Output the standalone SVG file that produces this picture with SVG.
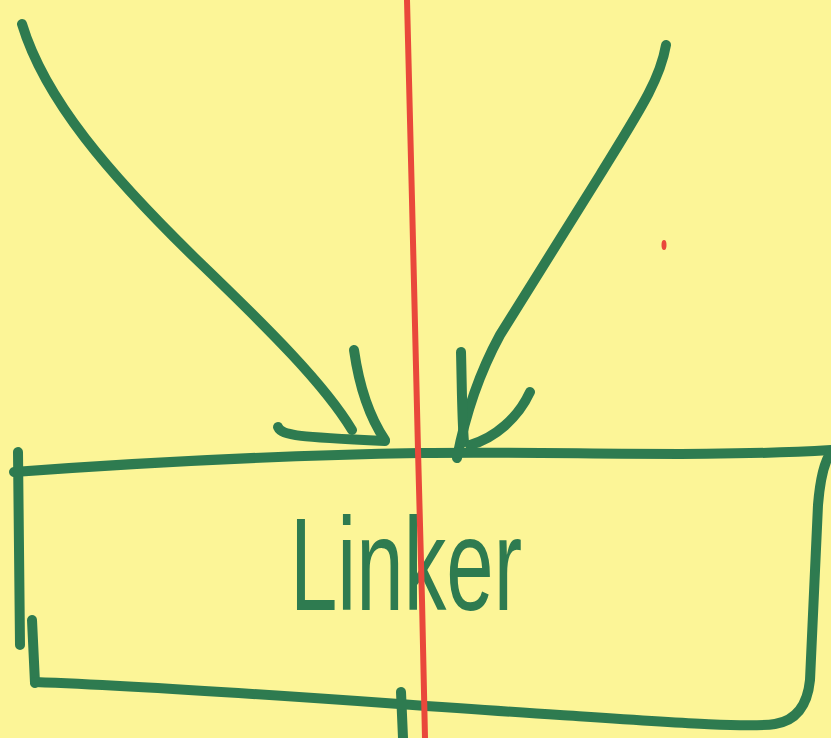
<svg xmlns="http://www.w3.org/2000/svg" width="831" height="738" viewBox="0 0 831 738">
<style>
.ink{fill:none;stroke:#2E7B50;stroke-width:10;stroke-linecap:round;stroke-linejoin:round}
.lbl{font-family:"Liberation Sans","DejaVu Sans",sans-serif;font-size:132px;fill:#2E7B50}
</style>
<rect x="0" y="0" width="831" height="738" fill="#FCF597"/>
<g id="connectors">
<path class="ink" d="M22,24 C45,100 110,175 195,258 C270,330 325,385 352,430"/>
<path class="ink" d="M278,427 C282,436 300,437 385,441"/>
<path class="ink" d="M354,350 C358,378 366,412 385,440"/>
<path class="ink" d="M666,45 C660,80 640,110 600,175 L500,335 Q470,390 457,458"/>
<path class="ink" d="M461,352 C462,390 462,420 464,442"/>
<path class="ink" d="M530,392 C518,418 495,438 470,445"/>
<path class="ink" d="M401,692 L403,738"/>
</g>
<g id="linker">
<path class="ink" d="M14,472 C150,462 300,455 420,453 C560,451 700,458 831,450"/>
<path class="ink" d="M18,452 L20,645"/>
<path class="ink" d="M32,620 L35,683"/>
<path class="ink" d="M35,682 C200,688 400,705 560,715 C680,723 750,728 775,724 C800,720 808,700 810,680 L818,505 C820,480 824,462 831,452"/>
<text class="lbl" x="290" y="610" textLength="232" lengthAdjust="spacingAndGlyphs">Linker</text>
</g>
<path d="M407,0 L412,200 L418,450 L422,600 L425,738" fill="none" stroke="#E9483B" stroke-width="6"/>
<ellipse cx="664" cy="245" rx="2.5" ry="5" fill="#E9483B"/>
</svg>
